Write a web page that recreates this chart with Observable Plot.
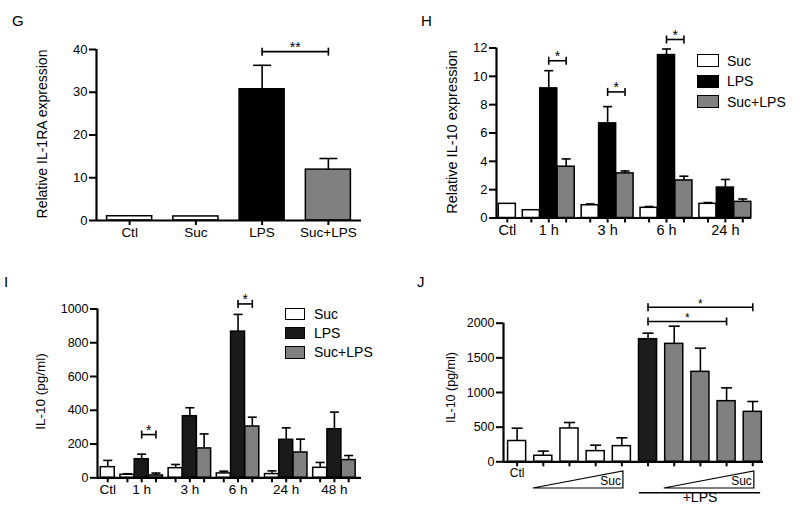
<!DOCTYPE html>
<html><head><meta charset="utf-8">
<script src="https://cdn.jsdelivr.net/npm/d3@7"></script>
<script src="https://cdn.jsdelivr.net/npm/@observablehq/plot@0.6"></script>
<style>
body{margin:0;background:#fff;font-family:"Liberation Sans",Arial,Helvetica,sans-serif;color:#000;}
#root{position:relative;width:800px;height:516px;overflow:hidden;background:#fff;}
.panel{position:absolute;width:400px;height:258px;}
.letter{position:absolute;font-size:15px;line-height:15px;}
.lg-box{position:absolute;box-sizing:border-box;border:1.5px solid #000;}
.lg-text{position:absolute;font-size:14px;line-height:14px;white-space:nowrap;}
</style></head><body><div id="root"></div>
<script>
// ---------- DATA ----------
// Panel G
const gCategories = ["Ctl", "Suc", "LPS", "Suc+LPS"];
const gTreatment = ["Ctl", "Suc", "LPS", "Suc+LPS"];
const gMeans = [1.0, 0.95, 30.7, 11.9];
const gSEM = [0, 0, 5.6, 2.6];
const gTicks = [0, 10, 20, 30, 40];

// Panel H
const hGroups = ["Ctl", "1 h", "3 h", "6 h", "24 h"];
const hSeries = ["Suc", "LPS", "Suc+LPS"];
const hCtl = 1.0, hCtlSEM = 0;
const hSuc = [0.55, 0.9, 0.72, 1.0];
const hSucSEM = [0, 0.09, 0.09, 0.09];
const hLPS = [9.15, 6.68, 11.5, 2.15];
const hLPSSEM = [1.25, 1.18, 0.43, 0.57];
const hSucLPS = [3.62, 3.15, 2.65, 1.14];
const hSucLPSSEM = [0.55, 0.17, 0.3, 0.2];
const hTicks = [0, 2, 4, 6, 8, 10, 12];
const hSig = [{group: "1 h", level: 11.1, mark: "*"}, {group: "3 h", level: 8.9, mark: "*"}, {group: "6 h", level: 12.6, mark: "*"}];

// Panel I
const iGroups = ["Ctl", "1 h", "3 h", "6 h", "24 h", "48 h"];
const iCtl = 63, iCtlSEM = 40;
const iSuc = [18, 57, 26, 22, 59];
const iSucSEM = [6, 22, 13, 19, 32];
const iLPS = [110, 365, 866, 225, 288];
const iLPSSEM = [30, 50, 102, 71, 101];
const iSucLPS = [14, 174, 304, 150, 105];
const iSucLPSSEM = [14, 86, 55, 79, 27];
const iTicks = [0, 200, 400, 600, 800, 1000];
const iSig = [{group: "1 h", level: 256, mark: "*"}, {group: "6 h", level: 1030, mark: "*"}];

// Panel J
const jLabels = ["Ctl", "", "", "", "", "", "", "", "", ""];
const jTreatment = ["Ctl", "Suc", "Suc", "Suc", "Suc", "LPS", "Suc+LPS", "Suc+LPS", "Suc+LPS", "Suc+LPS"];
const jMeans = [300, 87, 481, 154, 226, 1769, 1702, 1298, 875, 721];
const jSEM = [185, 67, 86, 86, 120, 87, 255, 341, 192, 149];
const jTicks = [0, 500, 1000, 1500, 2000];
const jSig = [{from: 5, to: 8, level: 2025, mark: "*"}, {from: 5, to: 9, level: 2230, mark: "*"}];

const legendNames = ["Suc", "LPS", "Suc+LPS"];

// ---------- HELPERS ----------
const FONT = '"Liberation Sans", Arial, Helvetica, sans-serif';
const hbar = {draw(ctx, size) { const r = Math.sqrt(size / Math.PI); ctx.moveTo(-r, 0); ctx.lineTo(r, 0); }};
const vbar = {draw(ctx, size) { const r = Math.sqrt(size / Math.PI); ctx.moveTo(0, -r); ctx.lineTo(0, r); }};

function grouped(groups, ctl, ctlErr, series, gap) {
  const rows = [{pos: 0, label: groups[0], treatment: "Ctl", mean: ctl, sem: ctlErr, group: groups[0]}];
  groups.slice(1).forEach((g, gi) => {
    series.forEach((s, si) => {
      const slot = 1 + gi * series.length + si;
      rows.push({pos: slot + gap * (gi + 1), label: si === 1 ? g : "", treatment: s.name,
                 mean: s.values[gi], sem: s.errors[gi], group: g});
    });
  });
  return rows;
}
function groupBrackets(rows, sig) {
  return sig.map(s => {
    const a = rows.find(r => r.group === s.group && r.treatment === "LPS");
    const b = rows.find(r => r.group === s.group && r.treatment === "Suc+LPS");
    return {x1: a.pos, x2: b.pos, level: s.level, mark: s.mark};
  });
}

function panel(cfg) {
  const {rows, brackets = [], yDomain, yTicks, xDomain, halfWidth, capR, margin, yLabel, yLabelDx,
         yLabelDy = 0, yLabelFont, yLabelFamily = FONT, tickFont, xFont, palette, extra = [], starDy = -4, starFont = 14} = cfg;
  const labelAt = new Map(rows.map(r => [r.pos, r.label]));
  const ends = brackets.flatMap(b => [{x: b.x1, y: b.level}, {x: b.x2, y: b.level}]);
  const withErr = rows.filter(d => d.sem > 0);
  return Plot.plot({
    width: 400, height: 258,
    marginTop: margin[0], marginRight: margin[1], marginBottom: margin[2], marginLeft: margin[3],
    style: {fontFamily: FONT, background: "transparent", overflow: "visible", color: "#000"},
    x: {domain: xDomain},
    y: {domain: yDomain},
    color: {domain: Object.keys(palette), range: Object.values(palette)},
    marks: [
      Plot.rect(rows, {x1: d => d.pos - halfWidth, x2: d => d.pos + halfWidth, y1: () => 0, y2: "mean",
                       fill: "treatment", stroke: "#000", strokeWidth: 1.5}),
      Plot.ruleX(withErr, {x: "pos", y1: "mean", y2: d => d.mean + d.sem, stroke: "#000", strokeWidth: 1.6}),
      Plot.dot(withErr, {x: "pos", y: d => d.mean + d.sem, symbol: hbar, r: capR, fill: "none", stroke: "#000", strokeWidth: 1.6}),
      Plot.ruleY(brackets, {y: "level", x1: "x1", x2: "x2", stroke: "#000", strokeWidth: 1.6}),
      Plot.dot(ends, {x: "x", y: "y", symbol: vbar, r: 4, fill: "none", stroke: "#000", strokeWidth: 1.6}),
      Plot.text(brackets, {x: d => (d.x1 + d.x2) / 2, y: "level", text: "mark", dy: starDy, fontSize: starFont}),
      Plot.ruleY([yDomain[0]], {stroke: "#000", strokeWidth: 2.2}),
      Plot.ruleX([xDomain[0]], {y1: () => yDomain[0], y2: () => yDomain[1], stroke: "#000", strokeWidth: 2.2}),
      Plot.axisY({ticks: yTicks, tickFormat: d => String(d), tickSize: 7, tickPadding: 2, fontSize: tickFont, strokeWidth: 2, label: null}),
      Plot.axisX({ticks: rows.map(r => r.pos), tickFormat: p => labelAt.get(p) ?? "", tickSize: 5, tickPadding: 2,
                  fontSize: xFont, strokeWidth: 2, label: null}),
      Plot.text([yLabel], {frameAnchor: "left", textAnchor: "middle", rotate: -90, dx: yLabelDx, dy: yLabelDy,
                           fontSize: yLabelFont, fontFamily: yLabelFamily}),
      ...extra
    ]
  });
}

function place(node, left, top) {
  const div = document.createElement("div");
  div.className = "panel";
  div.style.left = left + "px"; div.style.top = top + "px";
  div.appendChild(node);
  document.getElementById("root").appendChild(div);
}
function letter(t, left, top) {
  const s = document.createElement("div");
  s.className = "letter"; s.textContent = t;
  s.style.left = left + "px"; s.style.top = top + "px";
  document.getElementById("root").appendChild(s);
}
function legend(names, palette, boxLeft, boxW, boxH, textLeft, rowTops) {
  const root = document.getElementById("root");
  names.forEach((n, i) => {
    const b = document.createElement("div");
    b.className = "lg-box";
    Object.assign(b.style, {left: boxLeft + "px", top: rowTops[i] + "px", width: boxW + "px", height: boxH + "px", background: palette[n]});
    root.appendChild(b);
    const t = document.createElement("div");
    t.className = "lg-text"; t.textContent = n;
    Object.assign(t.style, {left: textLeft + "px", top: (rowTops[i] + boxH / 2 - 7) + "px"});
    root.appendChild(t);
  });
}

// ---------- PANEL G ----------
const gRows = gCategories.map((c, i) => ({pos: i, label: c, treatment: gTreatment[i], mean: gMeans[i], sem: gSEM[i]}));
const gBr = [{x1: gTreatment.indexOf("LPS"), x2: gTreatment.indexOf("Suc+LPS"), level: 39.5, mark: "**"}];
const palG = {"Ctl": "#ffffff", "Suc": "#ffffff", "LPS": "#000000", "Suc+LPS": "#808080"};
place(panel({rows: gRows, brackets: gBr, yDomain: [0, 40], yTicks: gTicks, xDomain: [-0.5, 3.5], halfWidth: 0.34, capR: 9,
  margin: [49, 39, 38, 96], yLabel: "Relative IL-1RA expression", yLabelDx: -54, yLabelDy: -1, yLabelFont: 14,
  tickFont: 13, xFont: 13.5, palette: palG, starDy: -4.5}), 0, 0);

// ---------- PANEL H ----------
const hRows = grouped(hGroups, hCtl, hCtlSEM, [
  {name: hSeries[0], values: hSuc, errors: hSucSEM},
  {name: hSeries[1], values: hLPS, errors: hLPSSEM},
  {name: hSeries[2], values: hSucLPS, errors: hSucLPSSEM}], 0.38);
const palH = {"Ctl": "#ffffff", "Suc": "#ffffff", "LPS": "#000000", "Suc+LPS": "#808080"};
place(panel({rows: hRows, brackets: groupBrackets(hRows, hSig), yDomain: [0, 12], yTicks: hTicks, xDomain: [-0.62, 14.02],
  halfWidth: 0.49, capR: 4.5, margin: [47.5, 49, 40.5, 96], yLabel: "Relative IL-10 expression", yLabelDx: -44, yLabelDy: -1,
  yLabelFont: 14.5, tickFont: 13, xFont: 14.5, palette: palH}), 400, 0);
legend(legendNames, palH, 697, 22, 13, 727, [54, 74.5, 95]);

// ---------- PANEL I ----------
const iRows = grouped(iGroups, iCtl, iCtlSEM, [
  {name: hSeries[0], values: iSuc, errors: iSucSEM},
  {name: hSeries[1], values: iLPS, errors: iLPSSEM},
  {name: hSeries[2], values: iSucLPS, errors: iSucLPSSEM}], 0.38);
const palI = {"Ctl": "#ffffff", "Suc": "#ffffff", "LPS": "#1a1a1a", "Suc+LPS": "#808080"};
place(panel({rows: iRows, brackets: groupBrackets(iRows, iSig), yDomain: [0, 1000], yTicks: iTicks, xDomain: [-0.72, 17.8],
  halfWidth: 0.49, capR: 4.5, margin: [50.5, 39, 38.7, 97], yLabel: "IL-10 (pg/ml)", yLabelDx: -57, yLabelDy: -2,
  yLabelFont: 13.5, tickFont: 12.5, xFont: 13.5, palette: palI}), 0, 258);
legend(legendNames, palI, 285, 20, 12.5, 314, [307.5, 326.5, 346]);

// ---------- PANEL J ----------
const jRows = jMeans.map((m, i) => ({pos: i, label: jLabels[i], treatment: jTreatment[i], mean: m, sem: jSEM[i]}));
const jBr = jSig.map(s => ({x1: s.from, x2: s.to, level: s.level, mark: s.mark}));
const palJ = {"Ctl": "#ffffff", "Suc": "#ffffff", "LPS": "#1c1c1c", "Suc+LPS": "#808080"};
const sucIdx = jTreatment.map((t, i) => t === "Suc" ? i : -1).filter(i => i >= 0);
const sucLpsIdx = jTreatment.map((t, i) => t === "Suc+LPS" ? i : -1).filter(i => i >= 0);
const lpsIdx = jTreatment.map((t, i) => t === "LPS" || t === "Suc+LPS" ? i : -1).filter(i => i >= 0);
const ramps = [{from: d3.min(sucIdx), to: d3.max(sucIdx), label: "Suc"}, {from: d3.min(sucLpsIdx), to: d3.max(sucLpsIdx), label: "Suc"}];
const lpsSpan = [{x1: d3.min(lpsIdx) - 0.33, x2: d3.max(lpsIdx) + 0.3, label: "+LPS"}];
function rampMark(r) {
  return (index, scales, values, dims) => {
    const x0 = scales.x(r.from - 0.38), x1 = scales.x(r.to + 0.06);
    const yb = dims.height - dims.marginBottom;
    return d3.create("svg:path")
      .attr("d", `M${x0},${yb + 26.7}L${x1},${yb + 26.7}L${x1},${yb + 9.7}Z`)
      .attr("fill", "none").attr("stroke", "#000").attr("stroke-width", 1.2).node();
  };
}
const jExtra = [
  ...ramps.map(rampMark),
  Plot.text(ramps, {x: d => d.to + 0.06, y: () => 0, text: "label", textAnchor: "end", lineAnchor: "bottom", dx: -2.5, dy: 23, fontSize: 12}),
  Plot.ruleY(lpsSpan, {x1: "x1", x2: "x2", y: () => 0, dy: 31, stroke: "#000", strokeWidth: 1.5}),
  Plot.text(lpsSpan, {x: d => (d.x1 + d.x2) / 2, y: () => 0, text: "label", lineAnchor: "bottom", dy: 40.5, fontSize: 14})
];
place(panel({rows: jRows, brackets: jBr, yDomain: [0, 2000], yTicks: jTicks, xDomain: [-0.52, 9.41],
  halfWidth: 0.345, capR: 5.5, margin: [64.7, 37, 54.7, 103], yLabel: "IL-10 (pg/ml)", yLabelDx: -53, yLabelDy: -5,
  yLabelFont: 12.5, yLabelFamily: '"Liberation Sans Narrow", "Liberation Sans", Arial, sans-serif',
  tickFont: 12.5, xFont: 12, palette: palJ, extra: jExtra, starDy: -3.5, starFont: 12}), 400, 258);

// ---------- LETTERS ----------
letter("G", 12, 12.5);
letter("H", 421, 12.5);
letter("I", 4, 273.5);
letter("J", 417, 273.5);
</script></body></html>
